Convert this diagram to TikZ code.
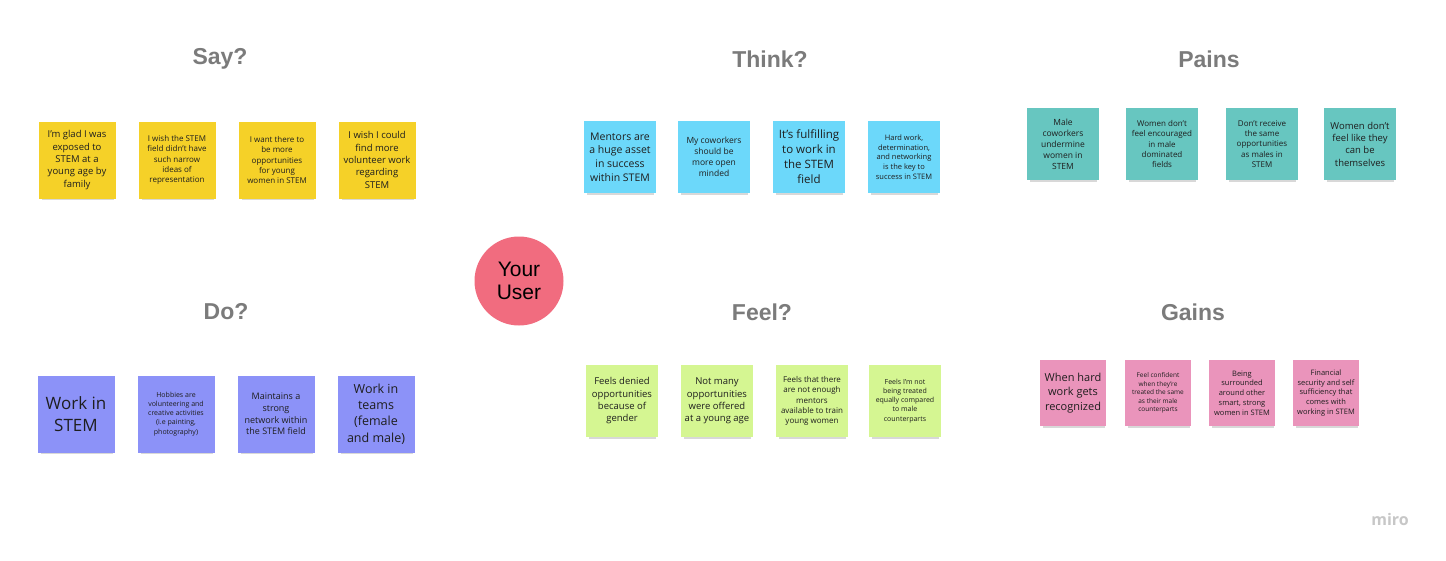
\documentclass[tikz,border=0pt]{standalone}
\usepackage{fontspec}
\setmainfont{Open Sans}
\newfontfamily\headfont{Liberation Sans}
\usetikzlibrary{shadows}

\definecolor{sayyellow}{HTML}{F5D128}
\definecolor{thinkblue}{HTML}{6CD8FA}
\definecolor{painteal}{HTML}{67C6C0}
\definecolor{doviolet}{HTML}{8C92F8}
\definecolor{feelgreen}{HTML}{D5F692}
\definecolor{gainpink}{HTML}{EA94BB}
\definecolor{userred}{HTML}{F16C7F}
\definecolor{headgray}{HTML}{7B7B7B}
\definecolor{notetext}{HTML}{1E1E1E}

% font size with matching line height
\newcommand\fsz[1]{\fontsize{#1}{\dimexpr #1*13/10\relax}\selectfont}

\begin{document}
\begin{tikzpicture}
    \def\dx{1pt}
    \def\dy{-1pt}

    \useasboundingbox[fill=white] (0,0) rectangle (1446*\dx,560*\dy);

    \tikzstyle{head}=[text=headgray,font=\headfont\bfseries\fontsize{23}{27}\selectfont]
    \tikzstyle{sticky}=[inner sep=0pt,align=center,text=notetext,
        drop shadow={shadow xshift=1pt,shadow yshift=-5pt,shadow scale=0.93,opacity=0.3}]
    \tikzstyle{say}=[sticky,fill=sayyellow,minimum size=77pt]
    \tikzstyle{think}=[sticky,fill=thinkblue,minimum size=72pt]
    \tikzstyle{pain}=[sticky,fill=painteal,minimum size=72pt]
    \tikzstyle{do}=[sticky,fill=doviolet,minimum size=77pt]
    \tikzstyle{feel}=[sticky,fill=feelgreen,minimum size=72pt]
    \tikzstyle{gain}=[sticky,fill=gainpink,minimum size=66pt]

    % headings
    \node[head] (sayh)   at (220*\dx,59*\dy)  {Say?};
    \node[head] (thinkh) at (770*\dx,59*\dy)  {Think?};
    \node[head] (painh)  at (1209*\dx,59*\dy) {Pains};
    \node[head] (doh)    at (226*\dx,312*\dy) {Do?};
    \node[head] (feelh)  at (762*\dx,312*\dy) {Feel?};
    \node[head] (gainh)  at (1193*\dx,312*\dy) {Gains};

    % the user
    \node[circle,fill=userred,minimum size=89pt,inner sep=0pt,align=center,
          font=\headfont\fontsize{21}{23}\selectfont] (user) at (519*\dx,281*\dy) {Your\\User};

    % say
    \node[say,font=\fsz{9.5pt}] (say1) at (77*\dx,160*\dy)  {I'm glad I was\\exposed to\\STEM at a\\young age by\\family};
    \node[say,font=\fsz{8pt}]   (say2) at (177*\dx,160*\dy) {I wish the STEM\\field didn't have\\such narrow\\ideas of\\representation};
    \node[say,font=\fsz{8pt}]   (say3) at (277*\dx,160*\dy) {I want there to\\be more\\opportunities\\for young\\women in STEM};
    \node[say,font=\fsz{9.5pt}] (say4) at (377*\dx,160*\dy) {I wish I could\\find more\\volunteer work\\regarding\\STEM};

    % think
    \node[think,font=\fsz{10.5pt}] (think1) at (620*\dx,157*\dy) {Mentors are\\a huge asset\\in success\\within STEM};
    \node[think,font=\fsz{8.5pt}]  (think2) at (714*\dx,157*\dy) {My coworkers\\should be\\more open\\minded};
    \node[think,font=\fsz{11.5pt}] (think3) at (809*\dx,157*\dy) {It's fulfilling\\to work in\\the STEM\\field};
    \node[think,font=\fsz{7.5pt}]  (think4) at (904*\dx,157*\dy) {Hard work,\\determination,\\and networking\\is the key to\\success in STEM};

    % pains
    \node[pain,font=\fsz{8.5pt}] (pain1) at (1063*\dx,144*\dy) {Male\\coworkers\\undermine\\women in\\STEM};
    \node[pain,font=\fsz{8pt}]   (pain2) at (1162*\dx,144*\dy) {Women don't\\feel encouraged\\in male\\dominated\\fields};
    \node[pain,font=\fsz{8pt}]   (pain3) at (1262*\dx,144*\dy) {Don't receive\\the same\\opportunities\\as males in\\STEM};
    \node[pain,font=\fsz{9.5pt}] (pain4) at (1360*\dx,144*\dy) {Women don't\\feel like they\\can be\\themselves};

    % do
    \node[do,font=\fsz{17pt}]   (do1) at (76*\dx,414*\dy)  {Work in\\STEM};
    \node[do,font=\fsz{7pt}]    (do2) at (176*\dx,414*\dy) {Hobbies are\\volunteering and\\creative activities\\(i.e painting,\\photography)};
    \node[do,font=\fsz{9pt}]    (do3) at (276*\dx,414*\dy) {Maintains a\\strong\\network within\\the STEM field};
    \node[do,font=\fsz{12.5pt}] (do4) at (376*\dx,414*\dy) {Work in\\teams\\(female\\and male)};

    % feel
    \node[feel,font=\fsz{9.5pt}] (feel1) at (622*\dx,401*\dy) {Feels denied\\opportunities\\because of\\gender};
    \node[feel,font=\fsz{9.5pt}] (feel2) at (717*\dx,401*\dy) {Not many\\opportunities\\were offered\\at a young age};
    \node[feel,font=\fsz{8pt}]   (feel3) at (812*\dx,401*\dy) {Feels that there\\are not enough\\mentors\\available to train\\young women};
    \node[feel,font=\fsz{7pt}]   (feel4) at (905*\dx,401*\dy) {Feels I'm not\\being treated\\equally compared\\to male\\counterparts};

    % gains
    \node[gain,font=\fsz{11pt}]  (gain1) at (1073*\dx,393*\dy) {When hard\\work gets\\recognized};
    \node[gain,font=\fsz{6.5pt}] (gain2) at (1158*\dx,393*\dy) {Feel confident\\when they're\\treated the same\\as their male\\counterparts};
    \node[gain,font=\fsz{7.5pt}] (gain3) at (1242*\dx,393*\dy) {Being\\surrounded\\around other\\smart, strong\\women in STEM};
    \node[gain,font=\fsz{7.5pt}] (gain4) at (1326*\dx,393*\dy) {Financial\\security and self\\sufficiency that\\comes with\\working in STEM};

    % logo
    \node[text=black!22,font=\bfseries\fontsize{16}{18}\selectfont] (logo) at (1390*\dx,519*\dy) {miro};
\end{tikzpicture}
\end{document}
